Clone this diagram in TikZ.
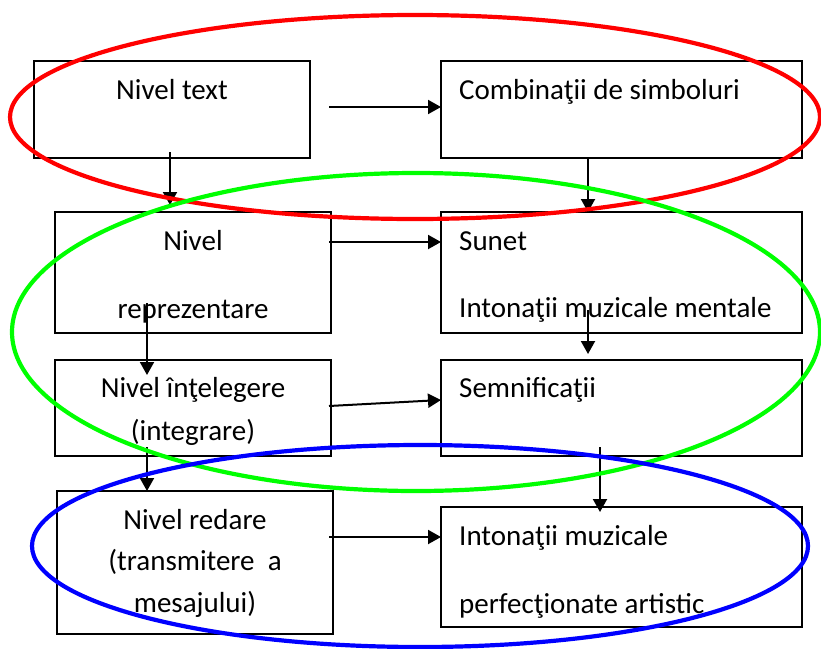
\documentclass[tikz,border=0pt]{standalone}
\usepackage{fontspec}
\setmainfont{Carlito}
\usetikzlibrary{arrows.meta}
\begin{document}
\begin{tikzpicture}[x=1pt,y=-1pt,
  box/.style={draw, line width=1.8pt, anchor=north west, inner sep=0pt, outer sep=0pt},
  lbl/.style={inner sep=0pt, font=\fontsize{29}{35}\selectfont},
  arr/.style={line width=2pt, -{Triangle[length=13pt,width=14pt]}},
  ring/.style={line width=4.2pt}]
\useasboundingbox (0,0) rectangle (821,648);
\fill[white] (0,0) rectangle (821,648);

% boxes: left column
\node[box, minimum width=276pt, minimum height=97pt]  (text)  at (34,61)  {};
\node[box, minimum width=276pt, minimum height=121pt] (repr)  at (55,212) {};
\node[box, minimum width=276pt, minimum height=96pt]  (intel) at (55,360) {};
\node[box, minimum width=276pt, minimum height=143pt] (redare) at (57,491) {};
% boxes: right column
\node[box, minimum width=361pt, minimum height=97pt]  (comb)  at (441,61)  {};
\node[box, minimum width=361pt, minimum height=121pt] (sunet) at (441,212) {};
\node[box, minimum width=361pt, minimum height=96pt]  (semn)  at (441,360) {};
\node[box, minimum width=361pt, minimum height=120pt] (arta)  at (441,507) {};

% labels
\node[lbl, anchor=base] (tText) at (172,99) {Nivel text};
\node[lbl, anchor=base west] (tComb) at (459,99) {Combinaţii de simboluri};
\node[lbl, anchor=base] (tRepA) at (193,250) {Nivel};
\node[lbl, anchor=base] (tRepB) at (193,318) {reprezentare};
\node[lbl, anchor=base west] (tSunA) at (459,250) {Sunet};
\node[lbl, anchor=base west] (tSunB) at (459,317) {Intonaţii muzicale mentale};
\node[lbl, anchor=base] (tIntA) at (193,397) {Nivel înţelegere};
\node[lbl, anchor=base] (tIntB) at (193,440) {(integrare)};
\node[lbl, anchor=base west] (tSemn) at (459,397) {Semnificaţii};
\node[lbl, anchor=base] (tRedA) at (195,529) {Nivel redare};
\node[lbl, anchor=base] (tRedB) at (195,570) {(transmitere\ \ a};
\node[lbl, anchor=base] (tRedC) at (195,612) {mesajului)};
\node[lbl, anchor=base west] (tArtA) at (459,545) {Intonaţii muzicale};
\node[lbl, anchor=base west] (tArtB) at (459,613) {perfecţionate artistic};

% connector end points
\coordinate (s1) at (329,107);
\coordinate (s2) at (170,152);  \coordinate (e2) at (170,205);
\coordinate (s3) at (588,158);
\coordinate (s4) at (329,242);
\coordinate (s5) at (147,303);  \coordinate (e5) at (147,375);
\coordinate (s6) at (588,310);  \coordinate (e6) at (588,354);
\coordinate (s7) at (329,406);  \coordinate (e7) at (441,400);
\coordinate (s8) at (147,447);
\coordinate (s9) at (600,447);  \coordinate (e9) at (600,512);
\coordinate (s10) at (329,537);

% connectors
\draw[arr] (s1) -- (s1 -| comb.west);
\draw[arr] (s2) -- (e2);
\draw[arr] (s3) -- (s3 |- sunet.north);
\draw[arr] (s4) -- (s4 -| sunet.west);
\draw[arr] (s5) -- (e5);
\draw[arr] (s6) -- (e6);
\draw[arr] (s7) -- (e7);
\draw[arr] (s8) -- (s8 |- redare.north);
\draw[arr] (s9) -- (e9);
\draw[arr] (s10) -- (s10 -| arta.west);

% grouping rings
\draw[ring, red] (415,117) ellipse [x radius=405, y radius=102];
\draw[ring, green] (416,332) ellipse [x radius=404, y radius=159];
\draw[ring, blue] (420,546) ellipse [x radius=388, y radius=101];
\end{tikzpicture}
\end{document}
